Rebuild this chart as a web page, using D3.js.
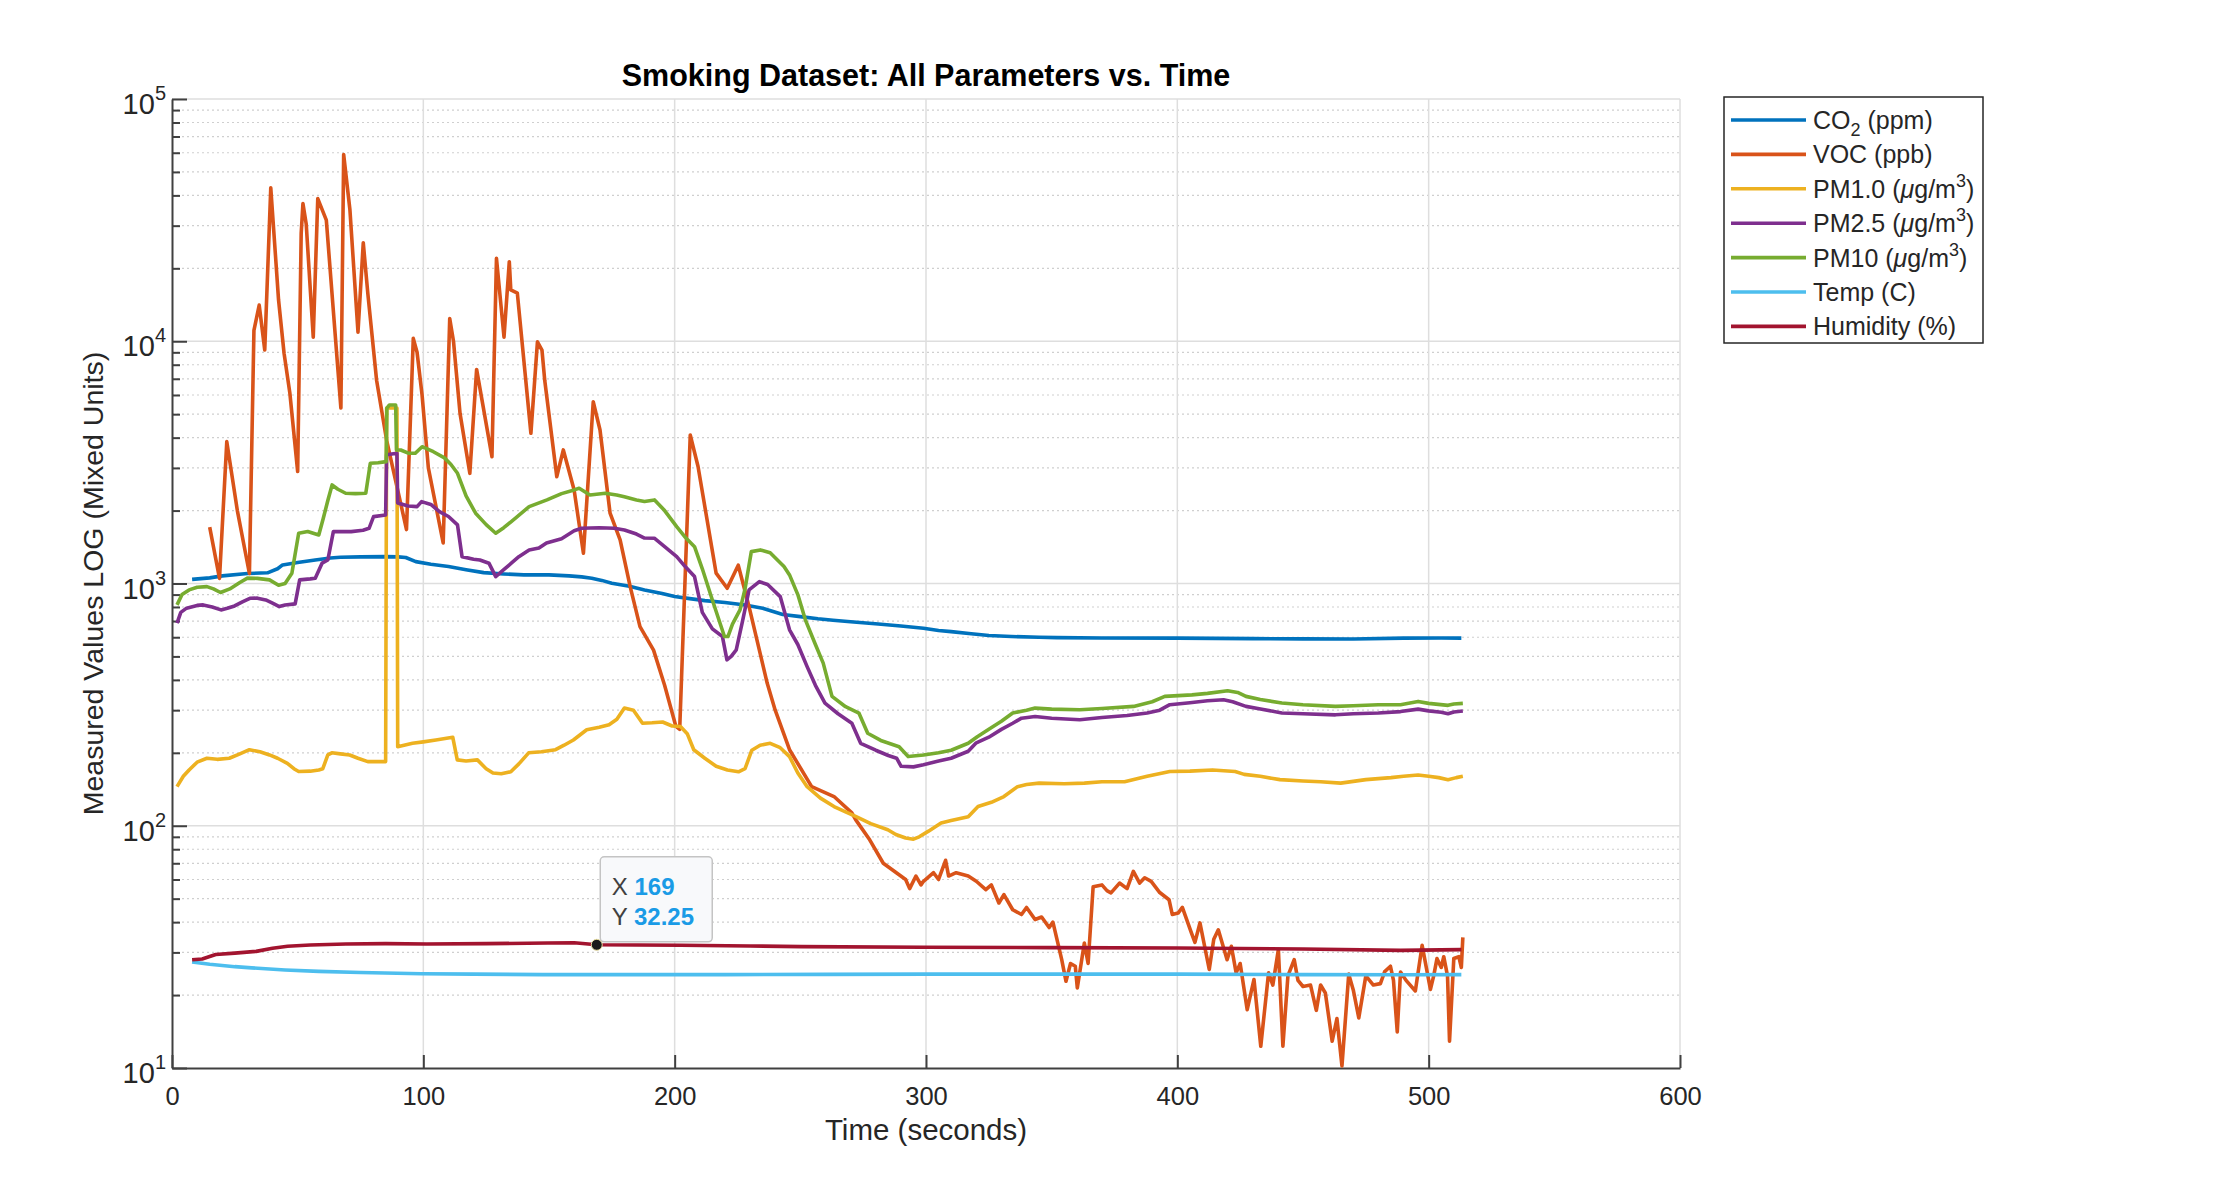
<!DOCTYPE html>
<html>
<head>
<meta charset="utf-8">
<script src="https://cdn.jsdelivr.net/npm/d3@7"></script>
<style>
    body { margin: 0; background: #ffffff; }
    svg text { font-family: "Liberation Sans", Arial, Helvetica, sans-serif; fill: #262626; }
</style>
</head>
<body>
<svg id="chart" width="2213" height="1178"></svg>
<script>
// ---- values: [time (s), value] ----
const co2_ppm = [[8,1040],[15,1055],[20,1075],[30,1100],[38,1107],[42,1150],[44,1193],[50,1220],[57,1251],[63,1275],
    [67,1284],[75,1288],[85,1291],[90,1288],[93,1280],[97,1231],[103,1200],[110,1175],[117,1140],[124,1109],
    [132,1095],[140,1085],[150,1085],[158,1075],[163,1065],[167,1052],[171,1030],[175,1003],[182,975],[188,941],
    [195,910],[200,883],[206,866],[212,850],[220,835],[228,815],[235,790],[243,745],[250,730],[257,715],
    [263,705],[270,695],[281,681],[290,668],[299,654],[305,640],[310,633],[318,620],[325,610],[334,604],
    [345,600],[352,598],[370,596],[400,595],[430,592],[450,591],[470,590],[490,595],[505,596],[513,595]];

const voc_ppb = [[15,1710],[18.9,1050],[21.8,3850],[26,2000],[30.8,1100],[32.6,11100],[34.7,14100],[36.9,9200],[39.3,43000],[42.4,14800],
    [44.6,8900],[46.9,6100],[50,2900],[51.4,27900],[52.1,37000],[53.4,30500],[56.2,10400],[58,38800],[61.4,31600],[67.2,5300],
    [68.3,59000],[70.8,34800],[74,10900],[76.1,25500],[77.9,15800],[81.4,6900],[85.4,3900],[93.3,1670],[96,10280],[97.5,9000],
    [99.5,6000],[102,3000],[107.9,1470],[110.5,12400],[112,10000],[114.6,5040],[118.5,2850],[121.2,7650],[127.3,3340],[129.1,22000],
    [132.1,10400],[134.2,21300],[134.8,16300],[137.4,15800],[142.8,4170],[145.4,9950],[147.2,9200],[148.3,6900],[153.1,2760],[155.7,3560],
    [160,2430],[163.7,1334],[167.6,5625],[170.3,4300],[174.3,1950],[178.3,1514],[182.3,971],[186.2,664],[191.6,531],[196,380],
    [200.5,257],[202,250],[206.2,4100],[209.3,3040],[214.7,1420],[216.5,1103],[220.9,956],[225.3,1190],[229.6,803],[236.8,388],
    [240,300],[245.7,206],[254.5,145],[263.4,132],[270.5,113],[272,106],[277.6,87.5],[283,70],[291.9,60],[293.5,55],
    [296,62],[298,57],[299,59],[303,64],[305,60],[307.8,72],[309,62],[312,64],[316.8,62],[320,59],
    [323.8,54.5],[326,57],[329,48],[331,52],[334.5,45],[338,43],[340,46],[343.4,41],[346,42],[349,38],
    [350.5,40],[354,28],[355.7,22.8],[357.5,27],[359.4,26.3],[360.2,21.4],[363,32.8],[364.5,27],[366.5,56],[370,57],
    [372,54],[373.6,52.8],[377,58],[380,55],[382.5,64.8],[385,58],[387,61],[389.6,58.9],[393,53],[396.7,49.5],
    [398,43],[400.3,43.6],[402,46],[405.6,36.1],[407,33],[409,39.7],[412.7,25.5],[414.5,34],[416.3,37.2],[419.8,28],
    [421.5,31.8],[423.4,24.7],[425,27],[427.8,17.4],[430.5,23.2],[433.2,12.3],[436.3,24.7],[438,22],[440.2,30.8],[442,12.3],
    [444,24],[446.5,28],[448,23],[450,21.7],[453,22],[455.3,17.3],[457,22],[458.9,20.4],[461.6,12.9],[463.5,16],
    [465.5,10.2],[468.2,24.4],[470,21],[472.2,16.1],[475,24],[478,22],[480.8,22.3],[482.5,25],[484.8,26.3],[486,23],
    [487.5,14.1],[488.8,24.9],[491,23],[494.7,20.8],[497.4,32.1],[500.7,21.1],[502,24],[503.3,28.3],[505,26],[506,28.8],
    [507.5,24],[508.3,12.9],[510,28.3],[512,28.8],[513,26],[513.6,34.6]];

const pm1_ugm3 = [[2,145],[4.5,160],[6.8,170],[10,183],[13.9,190],[18,188],[22.8,190],[27,198],[30.8,206],[35,202],
    [38.8,196],[42,190],[45.9,181],[48.5,172],[50.4,167.5],[55,168],[58.4,170],[60,172],[62,196],[63.6,200],
    [67,198],[70.7,196],[74,190],[77.9,184],[85,184],[85.4,5300],[89.5,5300],[89.8,212],[95.7,219],[100,222],
    [105,226],[111.7,232],[113.5,187],[117,185],[121.5,187],[125,172],[127.7,165],[131,164],[134.8,167],[138,180],
    [141.9,200],[147,202],[152.6,206],[156,215],[159.7,226],[165,249],[170,255],[173.9,261],[177,275],[180,306],
    [183.6,300],[187.2,265],[191,266],[195.2,268],[199,258],[202.3,257],[205,240],[207.6,206],[212,190],[216.5,176],
    [221,170],[225.4,167],[228,172],[230.7,205],[234,215],[238,219],[242,210],[245.7,193],[249,165],[252.7,145],
    [258,130],[263.4,120],[268,114],[272.2,109],[278,102],[284.8,96.3],[288,92],[291.9,89],[295,88],[297.3,90],
    [301,95],[306,102.6],[310,105],[316.8,109],[320.7,120],[326,125],[331,132],[336.4,145],[340,148],[345,150],
    [355,149],[363,150],[370,152],[379,152],[388,160],[397,167.5],[405,168],[414,170],[423,167.5],[426.6,163],
    [433,160],[440.8,155],[450,153],[457,152],[465,150],[475,155],[485,158],[490,160],[495.8,162],[500,160],
    [504,158],[507.7,155],[511,158],[513.6,160]];

const pm25_ugm3 = [[2,686],[3.5,760],[5.8,791],[10,812],[12.4,816],[16,800],[19.5,778],[22,790],[24.9,808],[28,840],
    [31,869],[34,870],[37.3,855],[40,830],[42.7,803],[45,815],[49,824],[50.8,1035],[55,1045],[57,1052],
    [59.7,1213],[62,1250],[64.2,1637],[68,1640],[71.3,1637],[76,1660],[78.4,1690],[80.2,1888],[85,1918],[85.4,3400],
    [89.5,3450],[89.8,2150],[94,2090],[97.5,2076],[99.3,2178],[103,2120],[106.4,1980],[110,1890],[113.6,1745],[115.4,1291],
    [120,1260],[122.5,1251],[126.1,1213],[128.8,1068],[132,1140],[135,1213],[138,1290],[142.1,1376],[146,1400],[149,1470],
    [155,1530],[160,1650],[163,1690],[170,1700],[176,1690],[180,1663],[184.8,1600],[188,1540],[191.9,1538],[196,1420],
    [200.8,1291],[204,1180],[207.9,1068],[211,760],[215,650],[219,604],[220.8,484],[222.5,500],[224.5,532],[227,700],
    [229.6,941],[233.7,1018],[237,990],[242,883],[245.7,644],[249,560],[252.7,454],[256,380],[259.8,321],[265,290],
    [270.5,265],[274,219],[280,205],[285,195],[288.3,190],[290.1,176],[295,175],[299,178.5],[305,185],[310,190],
    [316.8,203],[320,220],[325,232],[330,250],[334.5,265],[338,278],[343.4,282.5],[350,278],[361.2,274],[370,280],
    [380,285],[388,292],[393,300],[397,316],[405,322],[412,328],[418.4,331],[422,325],[427.3,311],[432,305],
    [441.6,292],[450,290],[462.9,287],[470,290],[480,292],[488.8,296],[495.8,303],[500,298],[505,294],[507.7,290],
    [510,295],[513.6,297.6]];

const pm10_ugm3 = [[2,816],[4,900],[6.8,941],[10,965],[13.9,971],[16.5,950],[19.3,918],[23,950],[27,1010],[30,1052],
    [34,1050],[38.8,1035],[42.4,984],[45,1000],[47.7,1103],[50.4,1612],[54,1640],[58.4,1586],[60.2,1859],[62,2200],
    [63.7,2552],[66,2450],[69.1,2358],[73,2350],[77.1,2358],[78.9,3135],[82,3150],[85.2,3185],[85.5,5300],[86.5,5455],
    [89,5455],[89.3,3560],[91,3557],[94,3450],[96.8,3448],[99.5,3670],[104,3500],[108.4,3300],[111,3100],[113.6,2851],
    [117,2300],[120.8,1950],[125,1750],[128.8,1612],[132,1700],[135,1801],[142.1,2076],[149.2,2213],[155,2350],[160,2434],
    [162,2473],[166.3,2320],[172.4,2358],[176.9,2320],[180,2280],[184.8,2213],[188,2180],[192,2213],[196,2000],[200.8,1717],
    [204,1560],[207.9,1419],[211,1150],[215,855],[219.8,604],[221.2,604],[223,680],[226,778],[228,950],[230.5,1354],
    [234.1,1376],[238,1340],[243.5,1175],[245.7,1085],[249,900],[252,708],[256,560],[259.1,469],[262.6,342],[268,310],
    [273.3,292],[276.8,241],[282,225],[289.3,212],[292.9,193],[299,196],[305,200],[310,205],[316.8,219],[320.4,233],
    [325,250],[330,270],[334.5,292],[340,300],[343.4,306],[350,303],[361.2,301],[370,305],[382.6,311],[390,325],
    [395,342],[405.8,347],[412,352],[420,361],[424,355],[427.3,342],[433,332],[441.6,321],[450,316],[462.9,311],
    [470,313],[480,316],[488.8,316],[495.8,326],[500,320],[507.7,314],[510,318],[513.6,320]];

const temp_c = [[8,27.4],[15,26.8],[25,26.2],[31.7,25.9],[45,25.4],[58.4,25.06],[75,24.8],[99.3,24.5],[120,24.4],[147.3,24.3],
    [182.8,24.3],[220,24.3],[260,24.35],[300,24.4],[350,24.4],[400,24.4],[450,24.3],[490,24.25],[513,24.3]];

const humidity_pct = [[8,28],[12,28.2],[17.4,29.4],[25,29.8],[33.5,30.3],[40,31.2],[46,31.8],[55,32.2],[69.2,32.5],[85,32.6],
    [101.3,32.5],[125,32.6],[149.5,32.8],[160,32.9],[169,32.25],[185,32.2],[202.4,32.1],[230,31.9],[250.3,31.7],[299,31.5],
    [350,31.4],[400,31.3],[450,31],[488.8,30.6],[513,30.8]];

// axis ticks
const x_ticks = [0, 100, 200, 300, 400, 500, 600];
const y_decades = [10, 100, 1000, 10000, 100000];
const y_minor_steps = [2, 3, 4, 5, 6, 7, 8, 9];

// data tip shown on the humidity line
const tip_x = 169;
const tip_y = 32.25;

// series in plotting order (matlab default colours)
const series = [
    {data: co2_ppm, color: "#0072BD", label: [["CO"], ["2", "sub"], [" (ppm)"]]},
    {data: voc_ppb, color: "#D95319", label: [["VOC (ppb)"]]},
    {data: pm1_ugm3, color: "#EDB120", label: [["PM1.0 ("], ["μ", "it"], ["g/m"], ["3", "sup"], [")"]]},
    {data: pm25_ugm3, color: "#7E2F8E", label: [["PM2.5 ("], ["μ", "it"], ["g/m"], ["3", "sup"], [")"]]},
    {data: pm10_ugm3, color: "#77AC30", label: [["PM10 ("], ["μ", "it"], ["g/m"], ["3", "sup"], [")"]]},
    {data: temp_c, color: "#4DBEEE", label: [["Temp (C)"]]},
    {data: humidity_pct, color: "#A2142F", label: [["Humidity (%)"]]}
];

// ---- layout ----
const plot_left = 172, plot_right = 1680, plot_top = 99, plot_bottom = 1068;
const axis_color = "#404040";

const svg = d3.select("#chart");

const x_scale = d3.scaleLinear().domain([0, 600]).range([plot_left, plot_right]);
const y_scale = d3.scaleLog().domain([10, 100000]).range([plot_bottom, plot_top]);

let minor_values = [];
y_decades.slice(0, -1).forEach(d => y_minor_steps.forEach(k => minor_values.push(d * k)));

// minor grid (dotted)
svg.append("g")
    .selectAll("line")
    .data(minor_values)
    .join("line")
        .attr("x1", plot_left)
        .attr("x2", plot_right)
        .attr("y1", d => y_scale(d))
        .attr("y2", d => y_scale(d))
        .attr("stroke", "#cfcfcf")
        .attr("stroke-width", 1.2)
        .attr("stroke-dasharray", "2,3");

// major grid
svg.append("g")
    .selectAll("line")
    .data(y_decades.slice(1))
    .join("line")
        .attr("x1", plot_left)
        .attr("x2", plot_right)
        .attr("y1", d => y_scale(d))
        .attr("y2", d => y_scale(d))
        .attr("stroke", "#dedede")
        .attr("stroke-width", 1.5);

svg.append("g")
    .selectAll("line")
    .data(x_ticks.slice(1))
    .join("line")
        .attr("x1", d => x_scale(d))
        .attr("x2", d => x_scale(d))
        .attr("y1", plot_top)
        .attr("y2", plot_bottom)
        .attr("stroke", "#dedede")
        .attr("stroke-width", 1.5);

// x axis, ticks pointing inwards
const x_axis = svg.append("g")
    .attr("transform", "translate(0," + plot_bottom + ")")
    .call(d3.axisBottom(x_scale).tickValues(x_ticks).tickSize(-13).tickSizeOuter(0));
x_axis.selectAll("text")
    .attr("y", 37)
    .attr("dy", 0)
    .style("font-size", "25.5px")
    .style("fill", "#262626");

// y axis, decades + minor ticks
const y_axis = svg.append("g")
    .attr("transform", "translate(" + plot_left + ",0)")
    .call(d3.axisLeft(y_scale).tickValues(y_decades).tickSize(-15).tickSizeOuter(0).tickFormat(() => ""));
svg.append("g")
    .attr("transform", "translate(" + plot_left + ",0)")
    .call(d3.axisLeft(y_scale).tickValues(minor_values).tickSize(-8).tickFormat(() => ""))
    .call(g => g.select(".domain").remove());

svg.selectAll(".domain, .tick line")
    .attr("stroke", axis_color)
    .attr("stroke-width", 2);

// y tick labels as 10^n
const y_labels = svg.append("g")
    .selectAll("text")
    .data(y_decades)
    .join("text")
        .attr("x", 166)
        .attr("y", d => y_scale(d) + 15)
        .attr("text-anchor", "end")
        .style("font-size", "29px");
y_labels.append("tspan").text("10");
y_labels.append("tspan")
    .attr("dy", -14)
    .style("font-size", "20px")
    .text(d => Math.round(Math.log10(d)));

// data lines
const line = d3.line()
    .x(d => x_scale(d[0]))
    .y(d => y_scale(d[1]));

svg.append("g")
    .selectAll("path")
    .data(series)
    .join("path")
        .attr("d", d => line(d.data))
        .attr("fill", "none")
        .attr("stroke", d => d.color)
        .attr("stroke-width", 3.6)
        .attr("stroke-linejoin", "round");

// title and axis labels
svg.append("text")
    .attr("x", (plot_left + plot_right) / 2)
    .attr("y", 86)
    .attr("text-anchor", "middle")
    .style("font-size", "30.5px")
    .style("font-weight", "bold")
    .style("fill", "#000")
    .text("Smoking Dataset: All Parameters vs. Time");

svg.append("text")
    .attr("x", (plot_left + plot_right) / 2)
    .attr("y", 1140)
    .attr("text-anchor", "middle")
    .style("font-size", "29.5px")
    .text("Time (seconds)");

svg.append("text")
    .attr("transform", "translate(93," + (plot_top + plot_bottom) / 2 + ") rotate(-90)")
    .attr("text-anchor", "middle")
    .attr("dy", "0.35em")
    .style("font-size", "28.5px")
    .text("Measured Values LOG (Mixed Units)");

// legend
const legend = svg.append("g").attr("transform", "translate(1724,97)");
legend.append("rect")
    .attr("width", 259)
    .attr("height", 246)
    .attr("fill", "#fff")
    .attr("stroke", "#262626")
    .attr("stroke-width", 1.5);

const entries = legend.selectAll("g.entry")
    .data(series)
    .join("g")
        .attr("class", "entry")
        .attr("transform", (d, i) => "translate(0," + (23 + i * 34.4) + ")");
entries.append("line")
    .attr("x1", 7)
    .attr("x2", 82)
    .attr("stroke", d => d.color)
    .attr("stroke-width", 3.6);
entries.append("text")
    .attr("x", 89)
    .attr("y", 9)
    .style("font-size", "25px")
    .each(function(d) {
        const txt = d3.select(this);
        let shift = 0;
        d.label.forEach(part => {
            const span = txt.append("tspan").text(part[0]);
            let next = 0;
            if (part[1] === "sub") next = 7;
            if (part[1] === "sup") next = -11;
            if (part[1] === "sub" || part[1] === "sup") span.style("font-size", "18px");
            if (part[1] === "it") span.style("font-style", "italic");
            if (next - shift !== 0) span.attr("dy", next - shift);
            shift = next;
        });
    });

// data tip
const tip_px = x_scale(tip_x), tip_py = y_scale(tip_y);
const tip = svg.append("g").attr("transform", "translate(" + tip_px + "," + tip_py + ")");
tip.append("rect")
    .attr("x", 3.5)
    .attr("y", -88)
    .attr("width", 112)
    .attr("height", 85)
    .attr("rx", 4)
    .attr("fill", "#f8f9fb")
    .attr("stroke", "#c4c4c4")
    .attr("stroke-width", 1.5);
const tip_rows = [["X ", tip_x], ["Y ", tip_y]];
tip.selectAll("text.row")
    .data(tip_rows)
    .join("text")
        .attr("class", "row")
        .attr("x", 15)
        .attr("y", (d, i) => -50 + i * 30)
        .style("font-size", "24px")
        .each(function(d) {
            d3.select(this).append("tspan").style("fill", "#404040").text(d[0]);
            d3.select(this).append("tspan")
                .style("fill", "#1a9be6")
                .style("font-weight", "bold")
                .text(d[1]);
        });
tip.append("circle")
    .attr("r", 5.5)
    .attr("fill", "#1b1b1b")
    .attr("stroke", "#e6dca0")
    .attr("stroke-width", 1);
</script>
</body>
</html>
